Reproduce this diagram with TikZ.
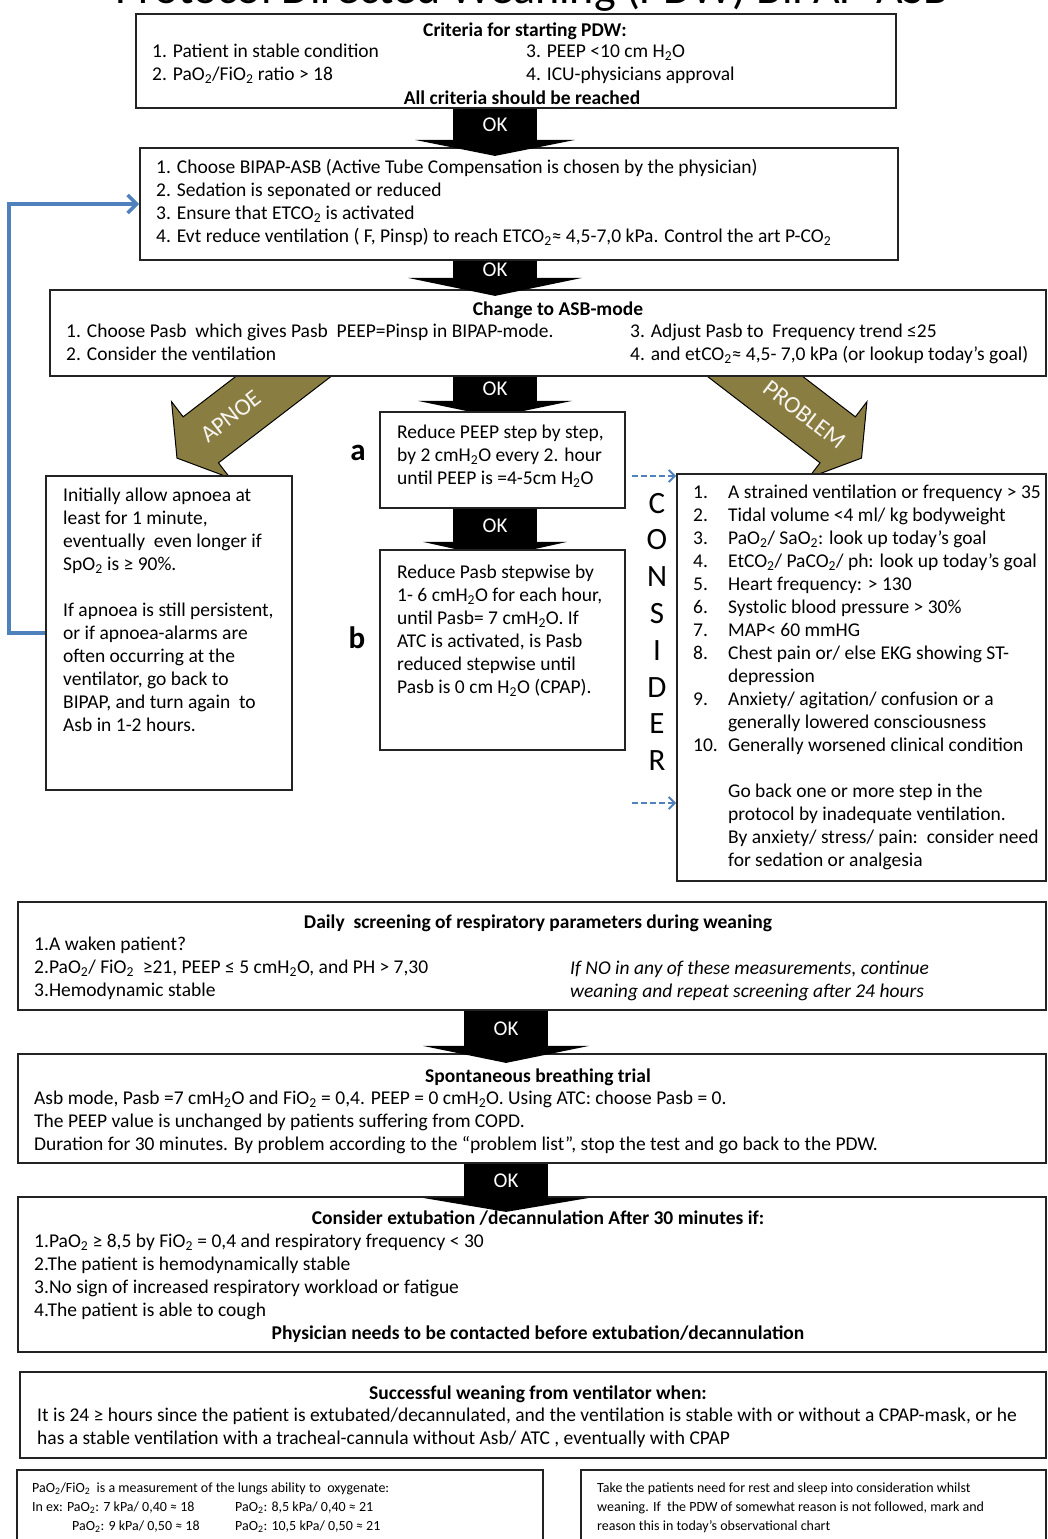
\documentclass[tikz,border=0pt]{standalone}
\usepackage{fontspec}
\setmainfont{Carlito}
\usetikzlibrary{arrows.meta,backgrounds,calc}
\definecolor{boxline}{RGB}{35,35,35}
\definecolor{olivearr}{RGB}{138,125,65}
\definecolor{backblue}{RGB}{79,129,189}
\newcommand{\subtwo}{\textsubscript{2}}

\begin{document}
\begin{tikzpicture}[x=1pt, y=1pt,
    box/.style={rectangle, draw=boxline, line width=1.8pt, fill=white, inner sep=0pt},
    txt/.style={inner sep=0pt, anchor=north west, align=left, font=\fontsize{19.5}{23}\selectfont},
    ttl/.style={inner sep=0pt, anchor=base, font=\fontsize{19.5}{23}\selectfont\bfseries},
    note/.style={inner sep=0pt, anchor=north west, align=left, font=\fontsize{14}{19}\selectfont},
    okstem/.style={rectangle, fill=black, text=white, inner sep=0pt, outer sep=0pt, minimum width=84, anchor=north, font=\fontsize{21}{24}\selectfont},
    branch/.style={draw=black, line width=1pt, fill=olivearr},
    branchtext/.style={text=white!92!olivearr, font=\fontsize{24}{28}\selectfont, inner sep=0pt},
    bigletter/.style={inner sep=0pt, anchor=base, font=\fontsize{31}{36}\selectfont},
    steplabel/.style={inner sep=0pt, anchor=base, font=\fontsize{31}{34}\selectfont\bfseries},
    loopback/.style={draw=backblue, line width=3.5pt, -{Straight Barb[length=9pt,width=18pt]}},
    dashback/.style={draw=backblue, line width=2pt, dash pattern=on 6pt off 3pt, -{Straight Barb[length=6pt,width=12pt]}}]

    \useasboundingbox (0,0) rectangle (1048,-1539);
    \clip (0,0) rectangle (1048,-1539);

    % Heading, cut by the top edge
    \node[inner sep=0pt, anchor=base, font=\fontsize{46}{50}\selectfont] (heading) at (532,-3) {Protocol Directed Weaning (PDW) BiPAP-ASB};

    \coordinate (upcol) at (495,0);
    \coordinate (lowcol) at (506,0);

    % Boxes
    \node[box, minimum width=760, minimum height=94] (crit) at (516,-61) {};
    \node[box, minimum width=758, minimum height=112] (bipap) at (519,-204) {};
    \node[box, minimum width=996, minimum height=86] (asb) at (548,-333) {};
    \node[box, minimum width=246, minimum height=314] (apnoe) at (169,-633) {};
    \node[box, minimum width=245, minimum height=96] (boxa) at (502.5,-460) {};
    \node[box, minimum width=245, minimum height=200] (boxb) at (502.5,-650) {};
    \node[box, minimum width=369, minimum height=407] (consider) at (861.5,-677.5) {};
    \node[box, minimum width=1028, minimum height=108] (daily) at (532,-956) {};
    \node[box, minimum width=1028, minimum height=109] (sbt) at (532,-1108.5) {};
    \node[box, minimum width=1028, minimum height=155] (extub) at (532,-1274.5) {};
    \node[box, minimum width=1026, minimum height=86] (success) at (533,-1415) {};
    \node[box, minimum width=526, minimum height=75] (noteL) at (280,-1507.5) {};
    \node[box, minimum width=465, minimum height=75] (noteR) at (813.5,-1507.5) {};

    \begin{pgfonlayer}{background}
        \fill[white] (0,0) rectangle (1048,-1539);
        % APNOE and PROBLEM arrows
        \begin{scope}[shift={($(apnoe.north)+(8,17)$)}, rotate=217.5]
            \draw[branch] (0,0) -- (-30,48) -- (-30,29) -- (-200,29) -- (-200,-29) -- (-30,-29) -- (-30,-48) -- cycle;
            \node[branchtext, rotate=37.5] (apnoelabel) at (-68,0) {APNOE};
        \end{scope}
        \begin{scope}[shift={($(consider.north)+(0,15)$)}, rotate=-37.5]
            \draw[branch] (0,0) -- (-30,48) -- (-30,29) -- (-200,29) -- (-200,-29) -- (-30,-29) -- (-30,-48) -- cycle;
            \node[branchtext, rotate=-37.5] (problemlabel) at (-72,0) {PROBLEM};
        \end{scope}
        % OK arrows under box a and box b
        \node[okstem, minimum height=24] (ok3) at (asb.south -| upcol) {OK};
        \fill (ok3.south) +(-77,0) -- +(77,0) -- +(0,-16) -- cycle;
        \node[okstem, minimum height=33] (ok4) at (boxa.south -| upcol) {OK};
        \fill (ok4.south) +(-72,0) -- +(72,0) -- +(0,-16) -- cycle;
    \end{pgfonlayer}

    % OK arrows
    \node[okstem, minimum height=31] (ok1) at (crit.south -| upcol) {OK};
    \fill (ok1.south) +(-80,0) -- +(80,0) -- +(0,-16) -- cycle;
    \node[okstem, minimum height=17] (ok2) at (bipap.south -| upcol) {OK};
    \fill (ok2.south) +(-87,0) -- +(87,0) -- +(0,-18) -- cycle;
    \node[okstem, minimum height=35] (ok5) at (daily.south -| lowcol) {OK};
    \fill (ok5.south) +(-83,0) -- +(83,0) -- +(0,-17) -- cycle;
    \node[okstem, minimum height=34] (ok6) at (sbt.south -| lowcol) {OK};
    \fill (ok6.south) +(-83,0) -- +(83,0) -- +(0,-14) -- cycle;

    % Criteria
    \node[ttl] (crittitle) at (525,-36) {Criteria for starting PDW:};
    \node[txt] (critleft) at (152,-41) {\strut 1. Patient in stable condition\\2. PaO\subtwo/FiO\subtwo{} ratio > 18};
    \node[txt] (critright) at (526,-41) {\strut 3. PEEP <10 cm H\subtwo O\\4. ICU-physicians approval};
    \node[ttl] (critend) at (522,-104) {All criteria should be reached};

    % BIPAP
    \node[txt] (bipaptext) at (156,-157) {\strut 1. Choose BIPAP-ASB (Active Tube Compensation is chosen by the physician)\\2. Sedation is seponated or reduced\\3. Ensure that ETCO\subtwo{} is activated\\4. Evt reduce ventilation ( F, Pinsp) to reach ETCO\subtwo≈ 4,5-7,0 kPa. Control the art P-CO\subtwo};

    % ASB-mode
    \node[ttl] (asbtitle) at (558,-315) {Change to ASB-mode};
    \node[txt] (asbleft) at (66,-321) {\strut 1. Choose Pasb\ \ which gives Pasb\ \ PEEP=Pinsp in BIPAP-mode.\\2. Consider the ventilation};
    \node[txt] (asbright) at (630,-321) {\strut 3. Adjust Pasb to\ \ Frequency trend ≤25\\4. and etCO\subtwo≈ 4,5- 7,0 kPa (or lookup today's goal)};

    % Steps a and b
    \node[steplabel] (laba) at (358,-460) {a};
    \node[steplabel] (labb) at (357,-648) {b};
    \node[txt] (atext) at (397,-422) {\strut Reduce PEEP step by step,\\by 2 cmH\subtwo O every 2. hour\\until PEEP is =4-5cm H\subtwo O};
    \node[txt] (btext) at (397,-562) {\strut Reduce Pasb stepwise by\\1- 6 cmH\subtwo O for each hour,\\until Pasb= 7 cmH\subtwo O. If\\ATC is activated, is Pasb\\reduced stepwise until\\Pasb is 0 cm H\subtwo O (CPAP).};

    % Apnoe
    \node[txt] (apnoetext) at (63,-485) {\strut Initially allow apnoea at\\least for 1 minute,\\eventually\ \ even longer if\\SpO\subtwo{} is ≥ 90\%.\\[23pt]If apnoea is still persistent,\\or if apnoea-alarms are\\often occurring at the\\ventilator, go back to\\BIPAP, and turn again\ \ to\\Asb in 1-2 hours.};

    % Consider
    \foreach \letter [count=\i] in {C,O,N,S,I,D,E,R}
        \node[bigletter] (cons\i) at (657,{-513-36.8*(\i-1)}) {\letter};
    \foreach \nr/\entry [count=\i] in {{1.}/{A strained ventilation or frequency > 35},
            {2.}/{Tidal volume <4 ml/ kg bodyweight},
            {3.}/{PaO\subtwo/ SaO\subtwo: look up today's goal},
            {4.}/{EtCO\subtwo/ PaCO\subtwo/ ph: look up today's goal},
            {5.}/{Heart frequency: > 130},
            {6.}/{Systolic blood pressure > 30\%},
            {7.}/{MAP< 60 mmHG},
            {8.}/{Chest pain or/ else EKG showing ST-},
            {}/{depression},
            {9.}/{Anxiety/ agitation/ confusion or a},
            {}/{generally lowered consciousness},
            {10.}/{Generally worsened clinical condition},
            {}/{},
            {}/{Go back one or more step in the},
            {}/{protocol by inadequate ventilation.},
            {}/{By anxiety/ stress/ pain:\ \ consider need},
            {}/{for sedation or analgesia}} {
        \node[inner sep=0pt, anchor=base west, font=\fontsize{19.5}{23}\selectfont] (num\i) at (693,{-498-23*(\i-1)}) {\nr};
        \node[inner sep=0pt, anchor=base west, font=\fontsize{19.5}{23}\selectfont] (entry\i) at (728,{-498-23*(\i-1)}) {\entry};
    }

    % Connections
    \draw[loopback] (apnoe.west) -- ++(-36,0) |- (bipap.west);
    \coordinate (dashA) at (632,-476);
    \coordinate (dashB) at (632,-803);
    \draw[dashback] (dashA) -- (dashA -| consider.west);
    \draw[dashback] (dashB) -- (dashB -| consider.west);

    % Daily screening
    \node[ttl] (dailytitle) at (538,-928) {Daily\ \ screening of respiratory parameters during weaning};
    \node[txt] (dailyleft) at (34,-934) {\strut 1.A waken patient?\\2.PaO\subtwo/ FiO\subtwo{}\ \ ≥21, PEEP ≤ 5 cmH\subtwo O, and PH > 7,30\\3.Hemodynamic stable};
    \node[txt, font=\fontsize{19.5}{23}\selectfont\itshape] (dailyright) at (570,-958) {\strut If NO in any of these measurements, continue\\weaning and repeat screening after 24 hours};

    % Spontaneous breathing trial
    \node[ttl] (sbttitle) at (538,-1082) {Spontaneous breathing trial};
    \node[txt] (sbttext) at (34,-1088) {\strut Asb mode, Pasb =7 cmH\subtwo O and FiO\subtwo{} = 0,4. PEEP = 0 cmH\subtwo O. Using ATC: choose Pasb = 0.\\The PEEP value is unchanged by patients suffering from COPD.\\Duration for 30 minutes. By problem according to the “problem list”, stop the test and go back to the PDW.};

    % Extubation
    \node[ttl] (extitle) at (538,-1224) {Consider extubation /decannulation After 30 minutes if:};
    \node[txt] (extext) at (34,-1231) {\strut 1.PaO\subtwo{} ≥ 8,5 by FiO\subtwo{} = 0,4 and respiratory frequency < 30\\2.The patient is hemodynamically stable\\3.No sign of increased respiratory workload or fatigue\\4.The patient is able to cough};
    \node[ttl] (exend) at (538,-1339) {Physician needs to be contacted before extubation/decannulation};

    % Successful weaning
    \node[ttl] (suctitle) at (538,-1399) {Successful weaning from ventilator when:};
    \node[txt] (suctext) at (37,-1405) {\strut It is 24 ≥ hours since the patient is extubated/decannulated, and the ventilation is stable with or without a CPAP-mask, or he\\has a stable ventilation with a tracheal-cannula without Asb/ ATC , eventually with CPAP};

    % Notes
    \node[note] (noteltext) at (32,-1479) {\strut PaO\subtwo/FiO\subtwo\ \ is a measurement of the lungs ability to\ \ oxygenate:\\In ex: PaO\subtwo: 7 kPa/ 0,40 ≈ 18};
    \node[note] (noteltextb) at (72,-1517) {\strut PaO\subtwo: 9 kPa/ 0,50 ≈ 18};
    \node[note] (noteltextc) at (235,-1498) {\strut PaO\subtwo: 8,5 kPa/ 0,40 ≈ 21\\PaO\subtwo: 10,5 kPa/ 0,50 ≈ 21};
    \node[note] (notertext) at (597,-1479) {\strut Take the patients need for rest and sleep into consideration whilst\\weaning. If\ \ the PDW of somewhat reason is not followed, mark and\\reason this in today's observational chart};
\end{tikzpicture}
\end{document}
